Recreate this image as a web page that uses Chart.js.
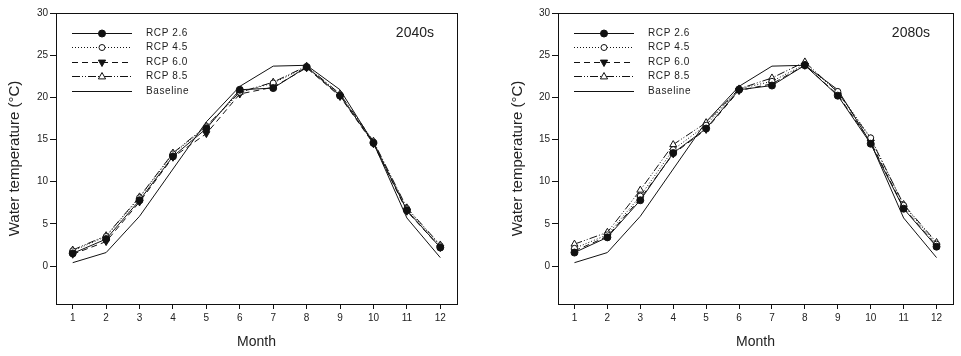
<!DOCTYPE html>
<html>
<head>
<meta charset="utf-8">
<script src="https://cdn.jsdelivr.net/npm/chart.js@4/dist/chart.umd.min.js"></script>
<style>
  html, body { margin: 0; padding: 0; background: #fff; }
  #wrap { position: relative; width: 961px; height: 356px; }
  canvas { position: absolute; top: 0; }
  #c1 { left: 0; }
  #c2 { left: 480px; }
</style>
</head>
<body>
<div id="wrap">
  <canvas id="c1" width="480" height="356"></canvas>
  <canvas id="c2" width="481" height="356"></canvas>
</div>
<script>
// ---- data ----
const months = [1, 2, 3, 4, 5, 6, 7, 8, 9, 10, 11, 12];
const yTicks = [0, 5, 10, 15, 20, 25, 30];
const seriesNames = ['RCP 2.6', 'RCP 4.5', 'RCP 6.0', 'RCP 8.5', 'Baseline'];
const periodNames = ['2040s', '2080s'];

const baseline = [0.4, 1.6, 5.9, 11.5, 17.1, 21.3, 23.7, 23.8, 20.9, 14.6, 5.7, 1.0];

const rcp26_2040s = [1.5, 3.2, 7.8, 13.0, 16.3, 20.9, 21.1, 23.6, 20.2, 14.6, 6.6, 2.2];
const rcp45_2040s = [1.8, 3.5, 8.1, 13.3, 16.5, 20.6, 21.7, 23.6, 20.3, 14.7, 6.8, 2.4];
const rcp60_2040s = [1.4, 2.9, 7.6, 12.9, 15.7, 20.4, 21.2, 23.5, 20.1, 14.5, 6.5, 2.2];
const rcp85_2040s = [1.9, 3.6, 8.2, 13.4, 16.6, 20.6, 21.8, 23.7, 20.4, 14.8, 6.9, 2.5];

const rcp26_2080s = [1.6, 3.4, 7.8, 13.4, 16.3, 20.9, 21.4, 23.8, 20.2, 14.5, 6.8, 2.3];
const rcp45_2080s = [2.1, 3.7, 8.3, 13.8, 16.7, 21.0, 21.9, 23.9, 20.7, 15.2, 7.2, 2.6];
const rcp60_2080s = [1.8, 3.5, 8.0, 13.3, 16.2, 20.8, 21.6, 23.8, 20.3, 14.7, 6.9, 2.4];
const rcp85_2080s = [2.6, 4.0, 9.0, 14.4, 17.0, 21.0, 22.3, 24.2, 20.6, 15.1, 7.3, 2.8];

// ---- styles ----
const INK = '#111';
const TXT = '#222';
const FONT = '"Liberation Sans", Arial, sans-serif';
const styles = [
  { dash: [], point: 'circle', fill: INK, rot: 0, r: 3.5 },
  { dash: [1, 2], point: 'circle', fill: '#fff', rot: 0, r: 3 },
  { dash: [6, 4], point: 'triangle', fill: INK, rot: 180, r: 4 },
  { dash: [8, 2, 1, 2, 1, 2], point: 'triangle', fill: '#fff', rot: 0, r: 4 },
  { dash: [], point: false, fill: INK, rot: 0, r: 0 }
];

function toXY(vals) { return months.map((m, i) => ({ x: m, y: vals[i] })); }

function drawMarker(ctx, st, x, y) {
  if (!st.point) return;
  ctx.save();
  ctx.setLineDash([]);
  ctx.lineWidth = 1;
  ctx.strokeStyle = INK;
  ctx.fillStyle = st.fill;
  ctx.beginPath();
  if (st.point === 'circle') {
    ctx.arc(x, y, st.r, 0, Math.PI * 2);
  } else {
    const r = st.r;
    const s = st.rot === 180 ? -1 : 1;
    ctx.moveTo(x, y - s * r);
    ctx.lineTo(x + r * 0.9, y + s * r * 0.6);
    ctx.lineTo(x - r * 0.9, y + s * r * 0.6);
    ctx.closePath();
  }
  ctx.fill();
  ctx.stroke();
  ctx.restore();
}

const framePlugin = {
  id: 'frame',
  afterDraw(chart) {
    const { ctx, chartArea: a } = chart;
    ctx.save();
    ctx.strokeStyle = INK;
    ctx.lineWidth = 1;
    ctx.setLineDash([]);
    ctx.strokeRect(Math.round(a.left) + 0.5, Math.round(a.top) + 0.5,
      Math.round(a.right - a.left), Math.round(a.bottom - a.top));
    // legend
    const x1 = a.left + 16, x2 = a.left + 76, xm = (x1 + x2) / 2;
    ctx.font = '10px ' + FONT;
    ctx.fillStyle = TXT;
    ctx.textBaseline = 'middle';
    ctx.textAlign = 'left';
    try { ctx.letterSpacing = '0.6px'; } catch (e) {}
    chart.data.datasets.forEach((ds, i) => {
      const y = Math.round(a.top + 20 + i * 14.4) + 0.5;
      const st = styles[i];
      ctx.save();
      ctx.strokeStyle = INK;
      ctx.lineWidth = 1;
      ctx.setLineDash(st.dash);
      ctx.beginPath();
      ctx.moveTo(x1, y);
      ctx.lineTo(x2, y);
      ctx.stroke();
      ctx.restore();
      drawMarker(ctx, st, xm, y);
      ctx.fillText(ds.label, a.left + 90, y);
    });
    try { ctx.letterSpacing = '0px'; } catch (e) {}
    // period label
    ctx.font = '14px ' + FONT;
    ctx.textAlign = 'right';
    ctx.fillStyle = TXT;
    ctx.fillText(chart.options.plugins.periodLabel.text, a.right - 23, a.top + 20);
    ctx.restore();
  }
};

function makeChart(id, period, sets, yAxisWidth, rightPad, titlePad) {
  const datasets = sets.map((vals, i) => ({
    label: seriesNames[i],
    data: toXY(vals),
    borderColor: INK,
    borderWidth: 1,
    borderDash: styles[i].dash,
    pointStyle: styles[i].point,
    pointRotation: styles[i].rot,
    pointRadius: styles[i].r,
    pointBackgroundColor: styles[i].fill,
    pointBorderColor: INK,
    pointBorderWidth: 1,
    tension: 0,
    fill: false
  }));
  return new Chart(document.getElementById(id), {
    type: 'line',
    data: { datasets },
    plugins: [framePlugin],
    options: {
      responsive: false,
      animation: false,
      devicePixelRatio: 1,
      layout: { padding: { top: 13, right: rightPad, left: 0, bottom: 0 } },
      plugins: {
        legend: { display: false },
        tooltip: { enabled: false },
        periodLabel: { text: period }
      },
      scales: {
        x: {
          type: 'linear',
          min: 0.5,
          max: 12.5,
          afterBuildTicks: s => { s.ticks = months.map(v => ({ value: v })); },
          afterFit: s => { s.height = 52; },
          grid: { drawOnChartArea: false, tickLength: 5, color: INK },
          border: { display: true, color: INK, width: 1 },
          ticks: { color: TXT, font: { size: 10, family: FONT }, padding: 3, maxRotation: 0, autoSkip: false },
          title: { display: true, text: 'Month', color: TXT, font: { size: 14, family: FONT }, padding: { top: 0, bottom: 5 } }
        },
        y: {
          type: 'linear',
          min: -4.5,
          max: 30,
          afterBuildTicks: s => { s.ticks = yTicks.map(v => ({ value: v })); },
          afterFit: s => { s.width = yAxisWidth; },
          grid: { drawOnChartArea: false, tickLength: 6, color: INK },
          border: { display: true, color: INK, width: 1 },
          ticks: { color: TXT, font: { size: 10, family: FONT }, padding: 2 },
          title: { display: true, text: 'Water temperature (°C)', color: TXT, font: { size: 15, family: FONT }, padding: { top: titlePad, bottom: 0 } }
        }
      }
    }
  });
}

makeChart('c1', periodNames[0], [rcp26_2040s, rcp45_2040s, rcp60_2040s, rcp85_2040s, baseline], 56, 23, 6);
makeChart('c2', periodNames[1], [rcp26_2080s, rcp45_2080s, rcp60_2080s, rcp85_2080s, baseline], 78, 8, 29);
</script>
</body>
</html>
